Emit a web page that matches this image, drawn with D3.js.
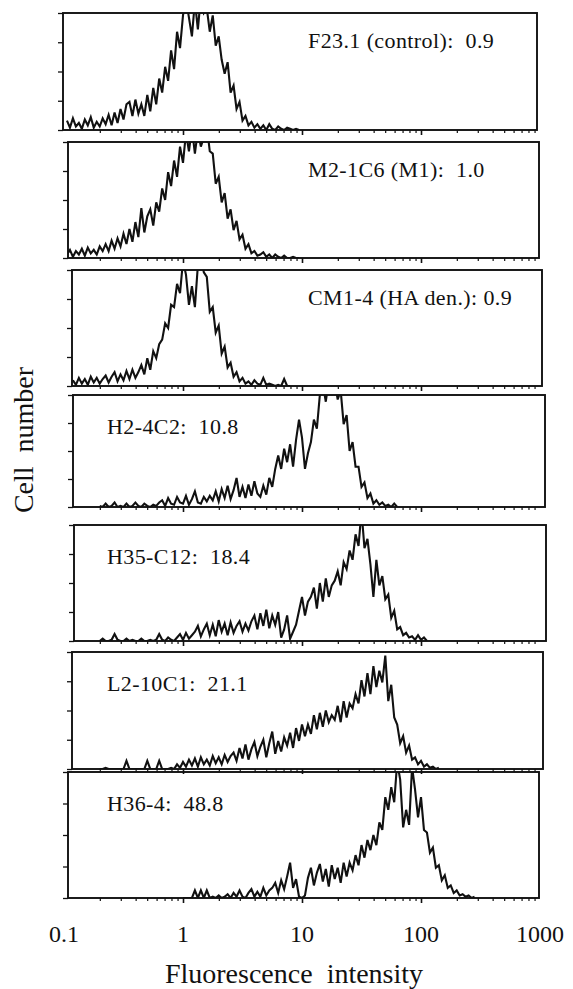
<!DOCTYPE html>
<html lang="en">
<head>
<meta charset="utf-8">
<title>Fluorescence histograms</title>
<script src="https://cdn.jsdelivr.net/npm/d3@7"></script>
<style>
  body { margin: 0; background: #ffffff; }
</style>
</head>
<body>
<div id="chart"></div>
<script>
// antibody names and mean fluorescence shown in each panel
const panelNames = ["F23.1 (control):  ", "M2-1C6 (M1):  ", "CM1-4 (HA den.): ", "H2-4C2:  ", "H35-C12:  ", "L2-10C1:  ", "H36-4:  "];
const panelScores = ["0.9", "1.0", "0.9", "10.8", "18.4", "21.1", "48.8"];

const tickValues = [0.1, 1, 10, 100, 1000];
const tickLabels = ["0.1", "1", "10", "100", "1000"];

// histogram channels are log spaced: channel i sits at 10^(-1 + i * channelStep)
const channelStep = 0.025;
const startChannel = [1, 1, 3, 12, 12, 12, 40];

// cell counts, in percent of panel height (values above 100 run off the top)
const f231 = [8,2,10,3,6,1,9,4,11,2,7,3,10,5,13,4,15,6,18,9,22,
  24,12,26,14,22,12,30,16,36,22,
  44,32,54,42,68,52,84,70,98,
  112,96,80,110,86,114,100,
  104,84,98,72,80,
  60,48,58,32,38,18,24,8,12,4,
  7,2,5,1,4,0,5,1,0,3,1,0,2,1,0,1,0];
const m21c6 = [3,7,1,6,3,8,2,9,4,7,3,10,6,
  12,6,15,8,17,10,21,12,
  25,14,31,18,43,22,36,
  42,28,48,
  40,60,50,
  74,62,84,70,96,82,
  108,92,112,90,110,96,104,114,92,
  90,64,70,
  48,56,34,42,
  24,32,16,
  20,8,12,4,6,
  2,3,5,1,3,0,3,1,0,2,0,0,1,0,0];
const cm14 = [5,1,7,2,6,1,8,3,7,2,
  6,9,3,8,12,4,10,5,13,6,14,7,12,
  18,10,24,14,
  30,24,36,40,54,
  50,70,
  68,88,80,
  108,96,70,86,68,104,112,98,
  94,64,68,
  46,52,28,
  34,16,20,8,
  12,4,7,2,
  4,1,5,2,1,7,1,2,1,0,1,0,6,0,0];
const h24c2 = [1,0,3,0,1,4,0,1,0,3,0,1,4,1,0,3,1,0,2,1,
  4,6,1,8,3,2,9,4,3,10,2,7,14,4,3,9,5,10,
  6,14,5,16,8,19,7,15,26,9,18,8,20,10,23,12,9,19,11,
  26,18,34,
  46,34,52,40,
  56,36,60,
  78,
  62,34,48,
  58,78,70,
  100,110,94,114,100,112,96,104,
  74,82,
  50,58,36,
  36,18,22,
  8,12,3,6,
  2,4,1,2,0,3,0];
const h35c12 = [0,2,0,0,1,6,1,0,0,2,0,1,0,0,2,0,0,1,0,1,
  6,1,0,3,1,0,
  3,6,1,7,2,5,
  8,13,4,10,15,5,14,4,18,8,15,5,16,7,13,17,8,15,9,
  17,22,10,24,13,27,11,22,14,25,
  3,10,22,2,8,14,
  26,38,22,34,
  38,46,28,50,34,54,38,48,
  52,60,48,68,62,
  78,70,92,82,112,80,88,
  66,38,70,
  48,56,36,40,
  20,26,10,
  12,5,7,3,4,1,5,
  1,3,0];
const l210c1 = [0,0,1,0,0,0,0,0,0,7,0,0,0,0,0,0,7,0,0,0,7,0,0,0,1,0,
  4,1,6,2,8,3,9,2,10,4,8,3,11,5,10,4,12,6,11,
  14,7,18,9,21,8,17,23,11,19,25,10,22,32,13,24,15,27,
  20,31,18,35,24,38,28,
  38,30,46,34,48,36,50,40,46,
  42,54,40,58,44,56,52,
  64,56,76,62,
  82,64,88,70,84,74,97,
  58,72,44,
  38,22,28,
  14,20,8,10,
  4,7,2,4,1,
  2,0,1];
const h364 = [0,0,0,0,6,0,6,0,6,
  0,1,0,2,0,1,
  3,0,4,1,6,1,0,4,7,1,5,1,8,2,6,
  8,12,4,14,7,17,28,8,15,
  1,0,2,
  16,24,10,20,27,13,23,9,26,15,24,12,28,17,
  28,22,34,26,42,32,46,38,
  50,42,60,54,
  80,70,88,76,
  108,94,56,70,58,104,
  86,64,80,54,
  52,36,40,24,
  26,14,18,8,10,
  4,6,2,3,1,
  2,0,1];
const counts = [f231, m21c6, cm14, h24c2, h35c12, l210c1, h364];

// page layout (the scanned frames are slightly skewed)
const width = 573, height = 989;
const panelTop    = [13, 142, 270, 395, 525, 652, 772];
const panelBottom = [130, 258, 386, 507, 641, 769, 898];
const panelLeft   = [63, 68, 72, 73, 74, 72, 68];
const panelRight  = [537, 539, 542, 545, 546, 543, 539];
const serif = "'Liberation Serif', 'DejaVu Serif', 'Times New Roman', serif";

const svg = d3.select("#chart").append("svg")
  .attr("width", width)
  .attr("height", height)
  .attr("font-family", serif);

const x = d3.scaleLog().domain([0.1, 1000]).range([64, 540]);

// minor log ticks 0.2 .. 900
const minorTicks = [];
[0.1, 1, 10, 100].forEach(d => {
  for (let m = 2; m <= 9; m++) minorTicks.push(d * m);
});

counts.forEach((arr, p) => {
  const top = panelTop[p], bottom = panelBottom[p];
  const left = panelLeft[p], right = panelRight[p];
  const y = d3.scaleLinear().domain([0, 100]).range([bottom, top]);
  const g = svg.append("g");

  const pts = arr.map((c, i) => ({
    v: Math.pow(10, -1 + (startChannel[p] + i) * channelStep),
    c: c
  }));

  g.append("clipPath").attr("id", "clip" + p)
    .append("rect")
    .attr("x", left).attr("y", top)
    .attr("width", right - left).attr("height", bottom - top);

  const line = d3.line().x(d => x(d.v)).y(d => y(d.c));

  g.append("path")
    .datum(pts)
    .attr("clip-path", "url(#clip" + p + ")")
    .attr("fill", "none")
    .attr("stroke", "#111")
    .attr("stroke-width", 2.1)
    .attr("d", line);

  // frame
  g.append("rect")
    .attr("x", left).attr("y", top)
    .attr("width", right - left).attr("height", bottom - top)
    .attr("fill", "none")
    .attr("stroke", "#111")
    .attr("stroke-width", 1.9);

  // y ticks, pointing out on the left
  g.append("g")
    .attr("transform", "translate(" + left + ",0)")
    .call(d3.axisLeft(y).tickValues([0, 25, 50, 75, 100]).tickSize(5).tickFormat(""))
    .call(a => a.select(".domain").remove())
    .selectAll("line").attr("stroke", "#111").attr("stroke-width", 1.3);

  // x ticks below each frame
  g.append("g")
    .attr("transform", "translate(0," + bottom + ")")
    .call(d3.axisBottom(x).tickValues(minorTicks.filter(v => x(v) > left && x(v) < right)).tickSize(3).tickFormat(""))
    .call(a => a.select(".domain").remove())
    .selectAll("line").attr("stroke", "#111").attr("stroke-width", 1.2);
  g.append("g")
    .attr("transform", "translate(0," + bottom + ")")
    .call(d3.axisBottom(x).tickValues([1, 10, 100]).tickSize(5).tickFormat(""))
    .call(a => a.select(".domain").remove())
    .selectAll("line").attr("stroke", "#111").attr("stroke-width", 1.6);

  // panel label
  const lx = p < 3 ? 308 : 107;
  g.append("text")
    .attr("x", lx)
    .attr("y", top + (p < 3 ? 35 : 39))
    .attr("font-family", serif)
    .attr("font-size", 22)
    .attr("letter-spacing", 0.4)
    .attr("fill", "#111")
    .style("white-space", "pre")
    .text(panelNames[p] + panelScores[p]);
});

// x tick labels
svg.append("g").selectAll("text")
  .data(tickValues)
  .enter()
  .append("text")
  .attr("x", d => x(d))
  .attr("y", 942)
  .attr("text-anchor", "middle")
  .attr("font-family", serif)
  .attr("font-size", 24)
  .attr("fill", "#111")
  .text((d, i) => tickLabels[i]);

svg.append("text")
  .attr("x", 294)
  .attr("y", 983)
  .attr("text-anchor", "middle")
  .attr("font-family", serif)
  .attr("font-size", 28)
  .attr("fill", "#111")
  .style("white-space", "pre")
  .text("Fluorescence  intensity");

svg.append("text")
  .attr("transform", "translate(33,440) rotate(-90)")
  .attr("text-anchor", "middle")
  .attr("font-family", serif)
  .attr("font-size", 28)
  .attr("fill", "#111")
  .style("white-space", "pre")
  .text("Cell  number");
</script>
</body>
</html>
